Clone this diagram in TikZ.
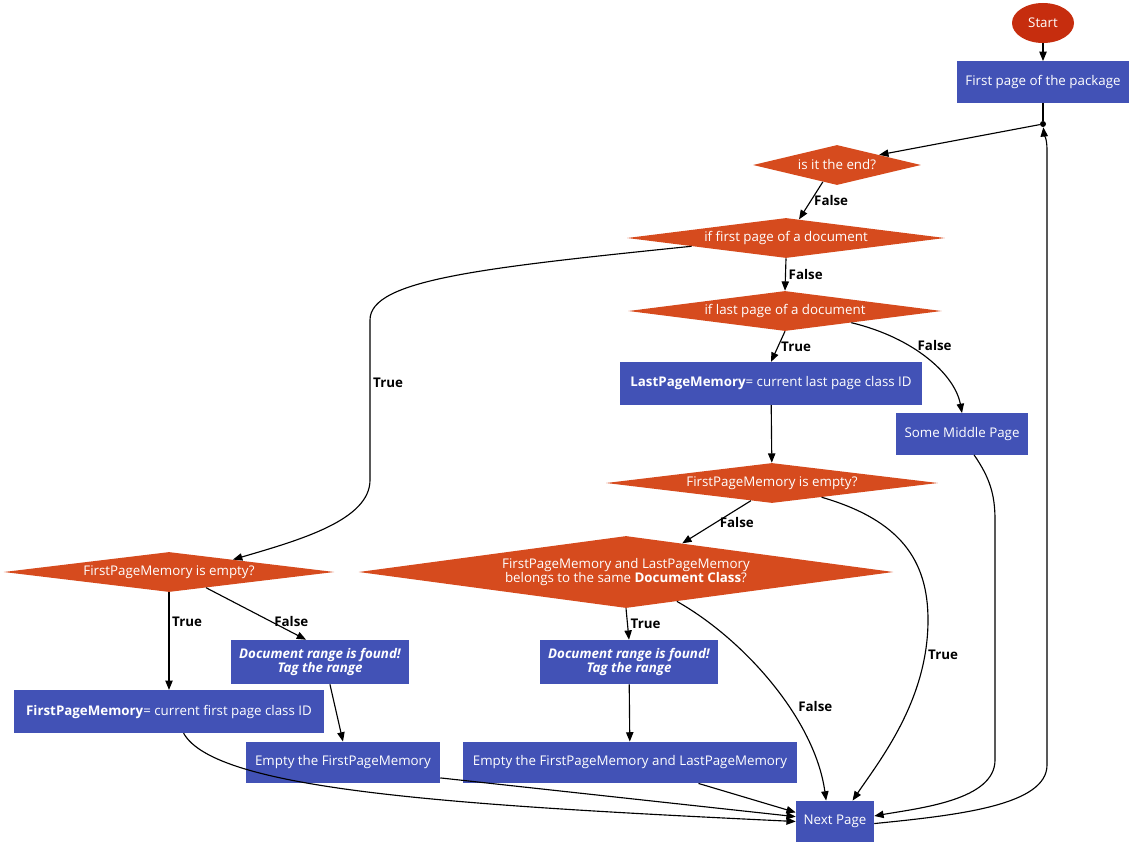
\documentclass[tikz,border=0pt]{standalone}
\usepackage{fontspec}
\setmainfont{Open Sans}
\usetikzlibrary{arrows.meta, shapes.geometric}
\definecolor{stepblue}{RGB}{66,82,182}
\definecolor{askorange}{RGB}{214,75,30}
\definecolor{startred}{RGB}{198,45,14}

\begin{document}
\begin{tikzpicture}[
    x=0.75pt, y=-0.75pt,
    >={Triangle[length=7pt,width=5.5pt]},
    font=\fontsize{10}{11}\selectfont,
    stepbox/.style  = {rectangle, fill=stepblue, text=white, align=center,
                       minimum height=31pt, inner sep=2pt},
    found/.style    = {stepbox, minimum width=134pt, minimum height=33pt,
                       font=\fontsize{10}{10}\selectfont\bfseries\itshape},
    ask/.style      = {diamond, fill=askorange, text=white, align=center, aspect=8,
                       inner sep=0pt, minimum height=30pt},
    terminal/.style = {ellipse, fill=startred, text=white, minimum width=46.5pt,
                       minimum height=30pt, inner sep=0pt},
    dot/.style      = {circle, fill=black, inner sep=0pt, minimum size=4.5pt},
    arr/.style      = {->, line width=0.85pt},
    lbl/.style      = {font=\fontsize{10}{11}\selectfont\bfseries, inner sep=2pt},
]
\useasboundingbox (0,0) rectangle (1142,856);

% ---- start and loop head ------------------------------------------------------
\node[terminal] (start) at (1043,23) {Start};
\node[stepbox, minimum width=129pt] (firstpage) at (1043,82) {First page of the package};
\node[dot] (join) at (1043,124) {};
\draw[arr] (start) -- (firstpage);
\draw[line width=0.85pt] (firstpage) -- (join);

% ---- page tests ---------------------------------------------------------------
\node[ask, aspect=5, minimum width=126pt] (isend) at (837,165) {is it the end?};
\node[ask, minimum width=238.5pt] (firstdoc) at (786,238) {if first page of a document};
\node[ask, minimum width=235pt] (lastdoc) at (785,311) {if last page of a document};
\node[stepbox, minimum width=226pt, minimum height=32pt] (lastmem) at (771,383.5)
     {\textbf{LastPageMemory}= current last page class ID};
\node[stepbox, minimum width=99pt] (middle) at (962,434) {Some Middle Page};
\node[ask, minimum width=249pt] (fpmright) at (772,483) {FirstPageMemory is empty?};
\node[ask, minimum width=401pt, minimum height=54pt] (sameclass) at (626,572)
     {FirstPageMemory and LastPageMemory\\belongs to the same \textbf{Document Class}?};

\draw[arr] (join) -- (isend.north east);
\draw[arr] (isend.230) -- node[lbl, right] {False} (firstdoc.55);
\draw[arr] (firstdoc.south) -- node[lbl, right] {False} (lastdoc.north);
\draw[arr] (lastdoc.south) -- node[lbl, right] {True} (lastmem.north);
\draw[arr] (lastdoc.350) .. controls (915,338) and (955,375) .. node[lbl, right=4pt, pos=0.35] {False} (middle.north);
\draw[arr] (lastmem) -- (fpmright);
\draw[arr] (fpmright.220) -- node[lbl, right] {False} (sameclass.27);

% ---- left branch (first page of a document) ------------------------------------
\node[ask, minimum width=248pt] (fpmleft) at (169,572) {FirstPageMemory is empty?};
\node[found] (foundleft) at (320,662) {Document range is found!\\Tag the range};
\node[stepbox, minimum width=232pt, minimum height=32pt] (firstmem) at (169,711.5)
     {\textbf{FirstPageMemory}= current first page class ID};
\node[stepbox, minimum width=145.5pt] (emptyfirst) at (343,762.5) {Empty the FirstPageMemory};

\draw[arr] (firstdoc.185) .. controls (480,268) and (370,280) .. (370,320)
     -- node[lbl, right, pos=0.39] {True} (370,480)
     .. controls (370,520) and (300,540) .. (fpmleft.11);
\draw[arr] (fpmleft.south) -- node[lbl, right, pos=0.3] {True} (firstmem.north);
\draw[arr] (fpmleft.337) -- node[lbl, right, pos=0.65] {False} (foundleft.122);
\draw[arr] (foundleft.294) -- (emptyfirst.north);

% ---- middle branch and next page -----------------------------------------------
\node[found] (foundright) at (629,662) {Document range is found!\\Tag the range};
\node[stepbox, minimum width=250.5pt] (emptyboth) at (630,762.5) {Empty the FirstPageMemory and LastPageMemory};
\node[stepbox, minimum width=58.5pt] (nextpage) at (835,821.5) {Next Page};

\draw[arr] (sameclass.south) -- node[lbl, right] {True} (foundright.north);
\draw[arr] (foundright) -- (emptyboth);
\draw[arr] (sameclass.330) .. controls (745,640) and (815,720) .. node[lbl, right=5pt, pos=0.6] {False} (nextpage.113);
\draw[arr] (fpmright.344) .. controls (900,520) and (928,560) .. (928,620)
     .. controls (928,700) and (880,760) .. node[lbl, right, pos=0.15] {True} (nextpage.50);
\draw[arr] (middle.300) .. controls (990,478) and (995,495) .. (995,520) -- (995,760)
     .. controls (995,800) and (920,808) .. (nextpage.8);
\draw[arr] (emptyboth.343) -- (nextpage.167);
\draw[arr] (emptyfirst.351) -- (nextpage.173);
\draw[arr] (firstmem.304) .. controls (215,790) and (450,805) .. (nextpage.west);

% ---- back to the loop head -----------------------------------------------------
\draw[arr] (nextpage.-3) .. controls (960,815) and (1047,805) .. (1047,765) -- (1047,150)
     .. controls (1047,138) and (1044,134) .. (join);
\end{tikzpicture}
\end{document}
